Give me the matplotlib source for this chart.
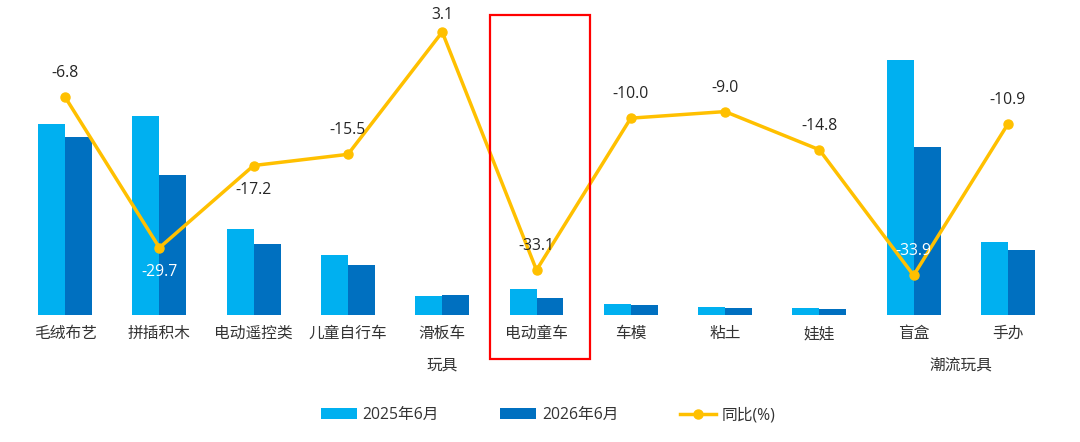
import numpy as np
import matplotlib
matplotlib.use("Agg")
import matplotlib.pyplot as plt
from matplotlib.patches import Rectangle
from matplotlib.transforms import blended_transform_factory

plt.rcParams['font.family'] = ['Open Sans', 'Noto Sans CJK SC', 'DejaVu Sans']

# data (bar heights in relative units)
categories = ["毛绒布艺", "拼插积木", "电动遥控类", "儿童自行车", "滑板车", "电动童车",
              "车模", "粘土", "娃娃", "盲盒", "手办"]
sales_2025 = [191, 199, 86, 60, 19.5, 26, 11, 8.5, 7, 255, 73]
sales_2026 = [178, 140, 71, 50.5, 20, 17.4, 9.7, 7.2, 5.7, 168, 65]
yoy = [-6.8, -29.7, -17.2, -15.5, 3.1, -33.1, -10.0, -9.0, -14.8, -33.9, -10.9]
groups = ["玩具", "潮流玩具"]

c_2025 = "#00B0F0"
c_2026 = "#0070C0"
c_line = "#FFC000"
txt = "#262626"
fs = 11.3

fig = plt.figure(figsize=(10.8, 4.42), dpi=100)
ax = fig.add_axes([18 / 1080, 127 / 442, 1037 / 1080, 300 / 442])
x = np.arange(len(categories))
w = 0.286

ax.bar(x - w / 2, sales_2025, w, color=c_2025, label="2025年6月")
ax.bar(x + w / 2, sales_2026, w, color=c_2026, label="2026年6月")
ax.set_xlim(-0.5, len(categories) - 0.5)
ax.set_ylim(0, 300)
ax.set_xticks(x)
ax.set_xticklabels(categories, fontsize=fs, color="#333333")
ax.tick_params(axis="x", length=0, pad=8)
ax.set_yticks([])
for s in ax.spines.values():
    s.set_visible(False)

# yoy line on a second axis
ax2 = ax.twinx()
ax2.plot(x, yoy, color=c_line, lw=2.5, marker="o", ms=6.5, label="同比(%)")
ax2.set_ylim(-39.93, 5.685)
ax2.set_yticks([])
for s in ax2.spines.values():
    s.set_visible(False)

below = {1, 2}
white = {1, 9}
for i, v in enumerate(yoy):
    off = -17.3 if i in below else 17.3
    if v > 0:
        off = 12.5
    ax2.annotate(f"{v:.1f}", (x[i], v), xytext=(0, off), textcoords="offset points",
                 ha="center", va="center", fontsize=fs,
                 color="white" if i in white else txt)

# group labels
trans = blended_transform_factory(ax.transData, fig.transFigure)
fig.text(4, (442 - 366) / 442, groups[0], transform=trans, ha="center", va="center",
         fontsize=fs, color="#333333")
fig.text(9.5, (442 - 366) / 442, groups[1], transform=trans, ha="center", va="center",
         fontsize=fs, color="#333333")

# red highlight box
fig.patches.append(Rectangle((4.505, (442 - 359) / 442), 1.06, 344 / 442, transform=trans,
                             fill=False, edgecolor="#FF0000", lw=1.6, clip_on=False))

h1, l1 = ax.get_legend_handles_labels()
h2, l2 = ax2.get_legend_handles_labels()
fig.legend(h1 + h2, l1 + l2, loc="center", bbox_to_anchor=(548 / 1080, (442 - 415) / 442),
           ncol=3, frameon=False, fontsize=fs, handlelength=2.3, handletextpad=0.35,
           columnspacing=3.9, labelcolor="#333333")

fig.savefig("out.png", dpi=100)
